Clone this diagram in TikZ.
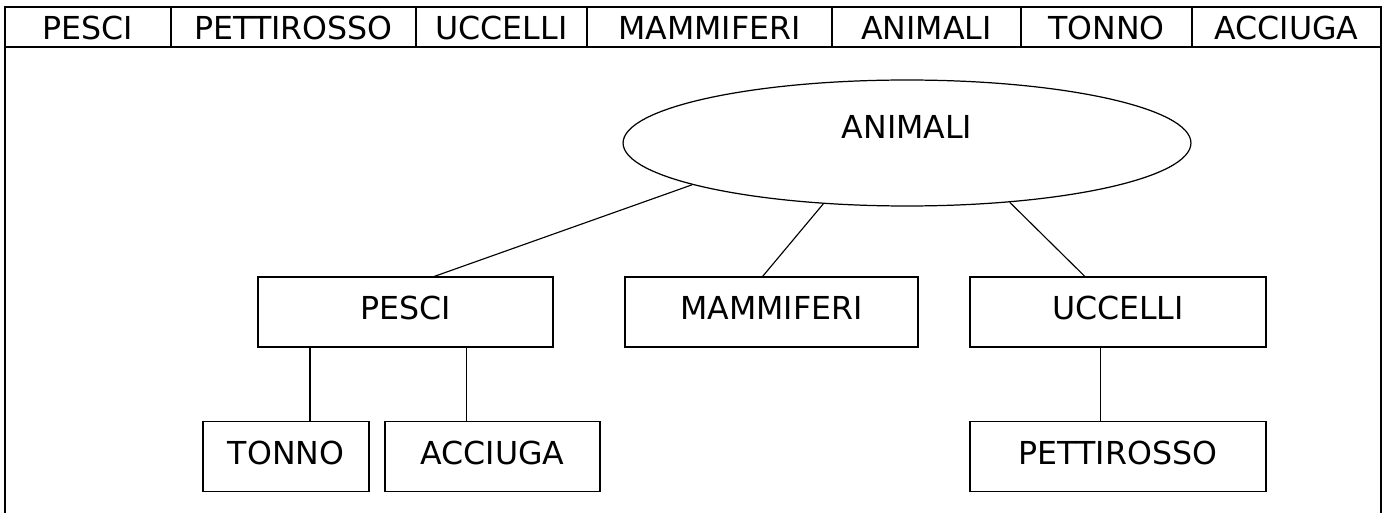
\documentclass[tikz,border=0pt]{standalone}
\usepackage{fontspec}
\setmainfont{DejaVu Sans}
\usetikzlibrary{shapes.geometric}

\begin{document}
\begin{tikzpicture}[x=0.02cm,y=-0.02cm,
    every node/.append style={font=\fontsize{18}{21}\selectfont},
    box/.style={draw,line width=0.7pt,minimum height=1.4cm,text depth=0.16cm,inner sep=0pt},
    link/.style={line width=0.65pt}]
    %% Classification of animals

    % Frame parameters
    \def\xl{5}
    \def\xr{1381}
    \def\yt{7}
    \def\yr{47}
    \def\yb{513}

    \useasboundingbox (0,0) rectangle (1389,513);

    % Header row
    \draw[line width=1.1pt]
    (\xl,\yb) -- (\xl,\yt) -- (\xr,\yt) -- (\xr,\yb);
    \draw[line width=1.1pt] (\xl,\yr) -- (\xr,\yr);
    \foreach \x in {171,416,587,832,1021,1192}
        \draw[line width=0.8pt] (\x,\yt) -- (\x,\yr);

    % Header labels
    \foreach \x/\name/\txt in {88/hpesci/PESCI, 293.5/hpettirosso/PETTIROSSO,
        501.5/huccelli/UCCELLI, 709.5/hmammiferi/MAMMIFERI, 926.5/hanimali/ANIMALI,
        1106.5/htonno/TONNO, 1286.5/hacciuga/ACCIUGA}
        \node (\name) at (\x,27.5) {\txt};

    % Root
    \node[ellipse,draw,line width=0.7pt,minimum width=11.36cm,minimum height=2.52cm,
        text depth=0.66cm] (animali) at (907,143) {ANIMALI};

    % Classes
    \node[box,minimum width=5.9cm] (pesci) at (405.5,312) {PESCI};
    \node[box,minimum width=5.86cm] (mammiferi) at (771.5,312) {MAMMIFERI};
    \node[box,minimum width=5.92cm] (uccelli) at (1118,312) {UCCELLI};

    % Species
    \node[box,minimum width=3.32cm] (tonno) at (286,456.5) {TONNO};
    \node[box,minimum width=4.3cm] (acciuga) at (492.5,456.5) {ACCIUGA};
    \node[box,minimum width=5.92cm] (pettirosso) at (1118,456.5) {PETTIROSSO};

    % Links
    \draw[link] (animali.191) -- (pesci.51);
    \draw[link] (animali.216) -- (mammiferi.104);
    \draw[link] (animali.330) -- (uccelli.133);
    \draw[link] (pesci.south -| tonno.56) -- (tonno.56);
    \draw[link] (pesci.south -| acciuga.126) -- (acciuga.126);
    \draw[link] (uccelli.south -| pettirosso.116) -- (pettirosso.116);

\end{tikzpicture}
\end{document}
